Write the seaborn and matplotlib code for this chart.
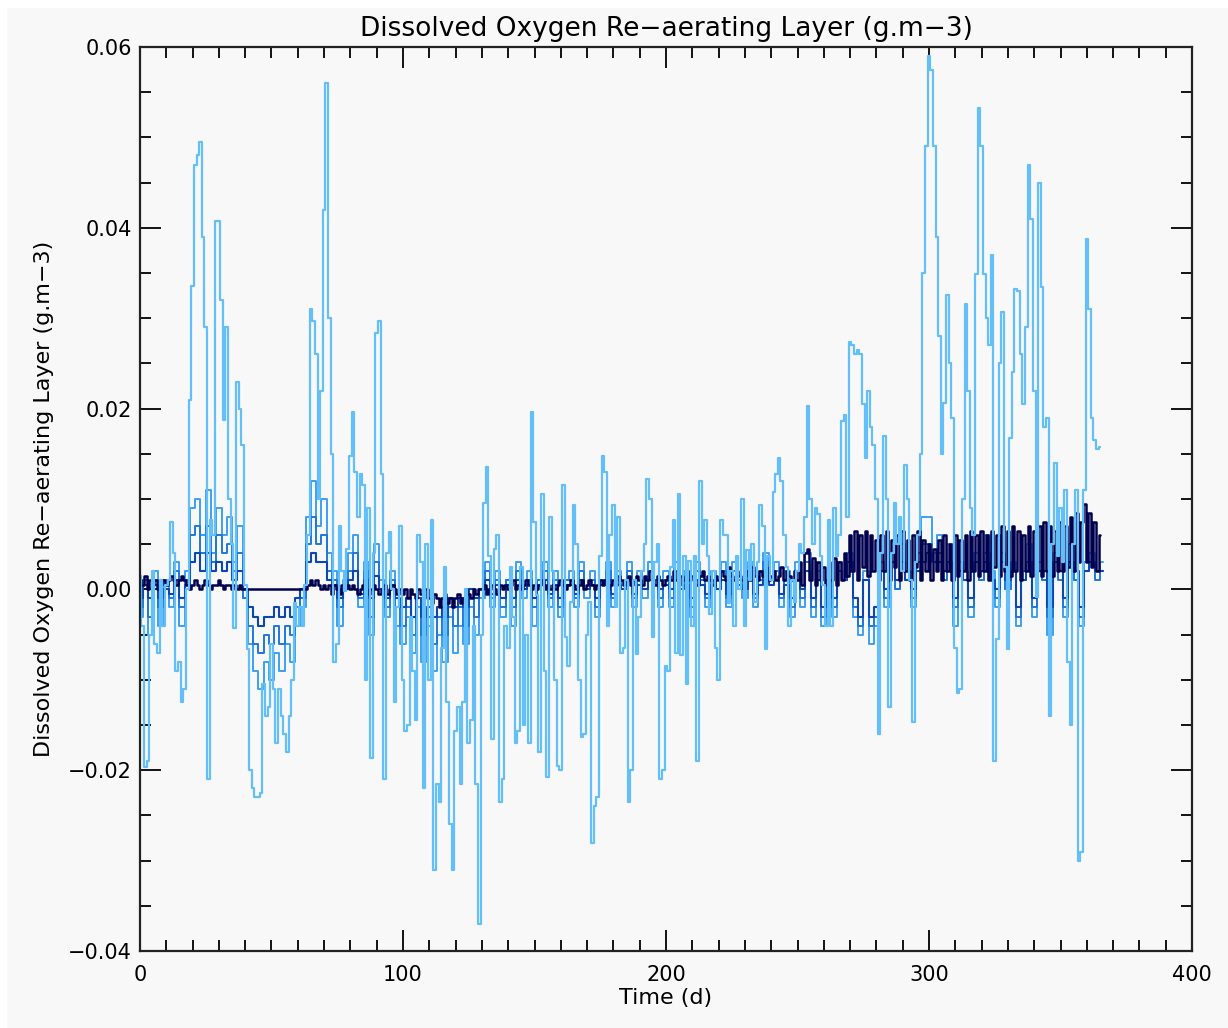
import numpy as np
import pandas as pd
import matplotlib
matplotlib.use("Agg")
import matplotlib.pyplot as plt
from matplotlib.ticker import MultipleLocator, FuncFormatter
import seaborn as sns

# ---- data ----
# surface (lightest) series, one value per day 0..365
light_series = [
    0.0015, -0.004, -0.0196, -0.019, -0.005, 0.002, -0.006, -0.007, 0.001, -0.004,
    0.0005, 0.001, 0.0075, 0.004, -0.009, -0.008, -0.0125, -0.011, 0.0, 0.021,
    0.0336, 0.047, 0.048, 0.0495, 0.039, 0.029, -0.021, 0.0077, 0.006, 0.0407,
    0.0407, 0.032, 0.0187, 0.029, 0.01, 0.005, -0.0043, 0.0229, 0.020, 0.016,
    0.0005, -0.0066, -0.020, -0.022, -0.023, -0.023, -0.0225, -0.0105, -0.014, -0.013,
    -0.006, -0.011, -0.017, -0.011, -0.014, -0.016, -0.018, -0.014, -0.010, -0.0015,
    -0.004, -0.002, -0.004, 0.0005, 0.006, 0.031, 0.0297, 0.026, 0.010, 0.022,
    0.042, 0.056, 0.030, 0.015, -0.008, -0.006, 0.007, 0.002, -0.0002, 0.0045,
    0.0148, 0.0196, 0.013, 0.008, 0.0128, 0.0115, -0.010, 0.009, -0.0186, 0.004,
    0.0284, 0.0297, 0.0128, -0.021, 0.004, 0.0063, 0.0, -0.0125, -0.002, 0.007,
    -0.010, -0.0157, -0.015, -0.003, -0.009, -0.0145, 0.006, 0.003, -0.022, 0.005,
    -0.010, 0.0077, -0.031, -0.0215, -0.0235, -0.0065, 0.0025, -0.0125, -0.026, -0.031,
    -0.0157, -0.013, -0.0215, -0.0125, 0.0, -0.017, -0.0145, -0.004, -0.0215, -0.037,
    -0.005, 0.0096, 0.0135, 0.0037, -0.0165, 0.0045, 0.006, -0.0235, -0.021, -0.004,
    -0.0065, 0.0025, -0.003, -0.017, -0.0157, 0.0025, -0.015, -0.005, -0.017, 0.0196,
    0.0075, -0.0006, -0.018, 0.0106, -0.009, -0.0207, 0.008, 0.002, -0.010, -0.0195,
    -0.020, 0.0115, -0.0053, -0.0085, -0.0014, 0.0093, 0.005, -0.010, -0.0163, -0.016,
    -0.005, -0.0014, -0.028, -0.024, -0.023, 0.0037, 0.0148, 0.013, -0.004, 0.006,
    0.0093, -0.002, 0.008, -0.007, -0.0065, 0.001, -0.0235, -0.020, 0.001, -0.0072,
    -0.003, 0.002, 0.005, 0.0122, 0.010, -0.0053, 0.003, 0.005, -0.021, -0.020,
    -0.0085, -0.009, 0.0025, 0.0077, -0.007, 0.0106, -0.0073, 0.0037, -0.0105, 0.0031,
    -0.004, 0.0037, -0.019, 0.012, 0.005, 0.0077, 0.0037, -0.0027, 0.002, -0.0065,
    -0.010, 0.0077, 0.006, 0.006, -0.0015, 0.002, -0.004, 0.0037, 0.0, 0.010,
    -0.004, 0.0044, 0.001, 0.005, -0.0014, 0.003, 0.0093, 0.007, -0.0066, 0.0037,
    0.001, 0.0108, 0.0128, 0.0145, 0.012, 0.006, 0.0025, -0.004, 0.001, -0.0014,
    0.002, 0.005, 0.004, 0.008, 0.0203, 0.010, 0.005, 0.009, 0.0083, 0.0037,
    0.0005, -0.004, 0.0077, -0.004, 0.009, 0.0037, 0.006, 0.0186, 0.0193, 0.008,
    0.0274, 0.027, 0.026, 0.0265, 0.026, 0.0205, 0.0145, 0.022, 0.018, 0.016,
    0.010, -0.016, 0.004, 0.017, 0.010, -0.013, 0.004, 0.0096, 0.005, 0.008,
    0.002, 0.0138, 0.010, 0.001, -0.0147, 0.003, 0.006, 0.015, 0.035, 0.049,
    0.059, 0.0575, 0.049, 0.039, 0.028, 0.015, 0.0206, 0.0326, 0.025, 0.019,
    -0.0065, -0.0115, -0.011, 0.010, 0.0316, 0.022, 0.009, 0.006, 0.0349, 0.0533,
    0.049, 0.0349, 0.030, 0.027, 0.037, -0.019, -0.0055, 0.025, 0.0307, 0.0025,
    -0.0066, 0.0167, 0.024, 0.0332, 0.033, 0.026, 0.0205, 0.029, 0.047, 0.041,
    0.022, -0.0008, 0.045, 0.0335, 0.018, 0.019, -0.014, 0.005, 0.014, 0.0037,
    0.009, 0.003, 0.011, -0.008, -0.015, 0.005, 0.011, -0.030, -0.029, 0.011,
    0.0388, 0.031, 0.019, 0.0165, 0.0155, 0.0157,
]

# deeper layers, one value every 2 days (0, 2, ..., 366)
layer_upper = [
    -0.003, 0.001, -0.005, 0.002, -0.004, 0.001, -0.002, 0.003, -0.004,
    0.002, 0.009, 0.010, 0.006, 0.011, 0.004, 0.009, 0.006, 0.008, 0.003, 0.007,
    -0.001, -0.006, -0.009, -0.011, -0.008, -0.010, -0.007, -0.009, -0.006, -0.008, -0.004, -0.002,
    0.008, 0.012, 0.007, 0.010, 0.004, 0.002, -0.004,
    0.001, 0.004, 0.006, -0.002, 0.003, -0.005, 0.005, 0.001, -0.003, 0.002, -0.004,
    -0.006, -0.003, -0.007, -0.002, -0.008, -0.004, -0.009, -0.005, -0.008, -0.003, -0.007, -0.004,
    -0.006, -0.002, -0.005, -0.001,
    0.003, -0.002, 0.002, -0.003, 0.001, -0.004, 0.003, -0.001, 0.002, -0.004, 0.001, 0.003,
    -0.002, 0.002, -0.003, 0.001, 0.002, -0.002, 0.003, -0.001, 0.002, -0.003, 0.001, 0.003,
    -0.002, 0.002, 0.000, 0.003, -0.002, 0.002, -0.001, 0.003, 0.001, -0.002,
    0.002, -0.002, 0.003, 0.000, 0.002, -0.003, 0.003, 0.001, -0.002, 0.002, 0.000, 0.003,
    -0.002, 0.003, 0.001, -0.001, 0.003, -0.002, 0.002, 0.004, 0.001, 0.003, -0.002, 0.002, -0.003,
    0.003, -0.002, 0.004, -0.003, 0.002, -0.004, 0.001, -0.003, 0.003, 0.001,
    0.004, -0.003, -0.005, 0.002, -0.006, -0.004, 0.003, -0.002, 0.004, 0.000, 0.005, 0.002,
    -0.002, 0.004, 0.008,
    0.008, 0.004, 0.006, 0.001, 0.005, -0.004, 0.003, 0.002, -0.003, 0.004, 0.001, 0.006,
    0.002, -0.002, 0.004, 0.000, 0.003, -0.004, 0.002, 0.005, -0.003, 0.003, 0.001, -0.005,
    0.004, 0.002, -0.003, 0.005, 0.001, -0.004, 0.003, 0.004, 0.002, 0.003,
]
layer_middle = [
    -0.002, 0.001, -0.003, 0.001, -0.002, 0.0, -0.001, 0.002, -0.002,
    0.001, 0.006, 0.007, 0.004, 0.007, 0.003, 0.006, 0.004, 0.005, 0.002, 0.004,
    -0.001, -0.004, -0.006, -0.007, -0.005, -0.006, -0.004, -0.006, -0.004, -0.005, -0.002, -0.001,
    0.005, 0.008, 0.005, 0.006, 0.002, 0.001, -0.002,
    0.0, 0.002, 0.004, -0.001, 0.002, -0.003, 0.003, 0.0, -0.002, 0.001, -0.002,
    -0.004, -0.002, -0.005, -0.001, -0.005, -0.003, -0.006, -0.003, -0.005, -0.002, -0.004, -0.002,
    -0.004, -0.001, -0.003, 0.0,
    0.002, -0.001, 0.001, -0.002, 0.001, -0.002, 0.002, 0.0, 0.001, -0.002, 0.001, 0.002,
    -0.001, 0.001, -0.002, 0.001, 0.001, -0.001, 0.002, 0.0, 0.001, -0.002, 0.001, 0.002,
    -0.001, 0.001, 0.0, 0.002, -0.001, 0.001, 0.0, 0.002, 0.001, -0.001,
    0.001, -0.001, 0.002, 0.0, 0.001, -0.002, 0.002, 0.001, -0.001, 0.001, 0.0, 0.002,
    -0.001, 0.002, 0.001, 0.0, 0.002, -0.001, 0.001, 0.003, 0.001, 0.002, -0.001, 0.001, -0.002,
    0.002, -0.001, 0.003, -0.002, 0.001, -0.003, 0.001, -0.002, 0.002, 0.001,
    0.003, -0.002, -0.004, 0.001, -0.004, -0.003, 0.002, -0.001, 0.003, 0.0, 0.003, 0.001,
    -0.001, 0.003, 0.005,
    0.005, 0.003, 0.004, 0.001, 0.003, -0.002, 0.002, 0.001, -0.002, 0.003, 0.001, 0.004,
    0.001, -0.001, 0.003, 0.0, 0.002, -0.003, 0.001, 0.003, -0.002, 0.002, 0.001, -0.003,
    0.003, 0.001, -0.002, 0.003, 0.001, -0.003, 0.002, 0.003, 0.001, 0.002,
]
layer_lower = [
    -0.001, 0.0005, -0.001, 0.0005, -0.001, 0.0, -0.0005, 0.001, -0.001,
    0.0005, 0.003, 0.004, 0.002, 0.004, 0.002, 0.003, 0.002, 0.003, 0.001, 0.002,
    0.0, -0.002, -0.003, -0.004, -0.003, -0.003, -0.002, -0.003, -0.002, -0.003, -0.001, 0.0,
    0.003, 0.004, 0.003, 0.003, 0.001, 0.0005, -0.001,
    0.0, 0.001, 0.002, -0.0005, 0.001, -0.001, 0.0015, 0.0, -0.001, 0.0005, -0.001,
    -0.002, -0.001, -0.003, -0.001, -0.003, -0.002, -0.003, -0.002, -0.003, -0.001, -0.002, -0.001,
    -0.002, 0.0, -0.001, 0.0,
    0.001, -0.0005, 0.0005, -0.001, 0.0005, -0.001, 0.001, 0.0, 0.0005, -0.001, 0.0005, 0.001,
    -0.0005, 0.0005, -0.001, 0.0005, 0.0005, -0.0005, 0.001, 0.0, 0.0005, -0.001, 0.0005, 0.001,
    -0.0005, 0.0005, 0.0, 0.001, -0.0005, 0.0005, 0.0, 0.001, 0.0005, 0.0,
    0.0005, 0.0, 0.001, 0.0, 0.0005, -0.001, 0.001, 0.0005, -0.0005, 0.0005, 0.0, 0.001,
    -0.0005, 0.001, 0.0005, 0.0, 0.001, -0.0005, 0.0005, 0.002, 0.0005, 0.001, -0.0005, 0.0005, -0.001,
    0.002, 0.0, 0.002, -0.001, 0.001, -0.002, 0.001, -0.001, 0.002, 0.001,
    0.003, -0.001, -0.003, 0.001, -0.003, -0.002, 0.002, 0.0, 0.003, 0.001, 0.003, 0.001,
    0.0, 0.002, 0.003,
    0.004, 0.003, 0.003, 0.002, 0.003, -0.001, 0.002, 0.001, -0.001, 0.003, 0.002, 0.003,
    0.001, 0.0, 0.003, 0.001, 0.002, -0.002, 0.001, 0.003, -0.001, 0.002, 0.002, -0.002,
    0.003, 0.002, -0.001, 0.003, 0.002, -0.002, 0.002, 0.003, 0.002, 0.002,
]
# deepest layer, one value per day 0..365
layer_deep = [
    0.001, 0.0005, 0.0015, 0.0, 0.001, 0.0005, 0.001, 0.0, 0.0005, 0.001,
    0.0005, 0.001, 0.0015, 0.001, 0.0005, 0.001, 0.0015, 0.001, 0.0005, 0.0,
    0.0005, 0.001, 0.0005, 0.0, 0.0005, 0.001, 0.0005, 0.0, 0.0005, 0.0005,
    0.001, 0.0005, 0.0, 0.0005, 0.0005, 0.0, 0.0005, 0.0, 0.0005, 0.0,
    0.0, 0.0, 0.0, 0.0, 0.0, 0.0, 0.0, 0.0, 0.0, 0.0,
    0.0, 0.0, 0.0, 0.0, 0.0, 0.0, 0.0, 0.0, 0.0, 0.0,
    0.0, 0.0, 0.0, 0.0, 0.0005, 0.001, 0.0005, 0.001, 0.0005, 0.0,
    0.0005, 0.0, 0.0005, -0.0005, 0.0005, 0.0, -0.0005, 0.0005, 0.0, 0.0005,
    0.0, 0.0005, 0.0, -0.0005, 0.0, 0.0005, 0.0, -0.0005, 0.0, 0.0005,
    0.0, -0.0005, 0.0, 0.0005, -0.0005, 0.0, 0.0005, 0.0, -0.0005, 0.0,
    -0.0005, 0.0, -0.001, 0.0, -0.0005, -0.001, 0.0, -0.0005, -0.001, 0.0,
    -0.001, -0.0015, -0.0005, -0.001, -0.002, -0.001, -0.0005, -0.0015, -0.001, -0.002,
    -0.001, -0.0005, -0.0015, -0.001, 0.0, -0.0005, -0.001, 0.0, -0.0005, 0.0,
    0.0, 0.0005, -0.0005, 0.0, 0.0005, 0.0, -0.0005, 0.0005, 0.0, 0.0005,
    0.0, 0.0005, 0.001, 0.0, 0.0005, 0.0, 0.0005, 0.001, 0.0005, 0.0,
    0.0005, 0.0, 0.0005, 0.001, 0.0, 0.0005, 0.0, 0.0005, 0.0, 0.0005,
    0.001, 0.0005, 0.0, 0.0005, 0.001, 0.0005, 0.0, 0.0005, 0.001, 0.0,
    0.0005, 0.001, 0.0005, 0.0, 0.0005, 0.001, 0.0005, 0.001, 0.0, 0.0005,
    0.001, 0.0005, 0.0015, 0.001, 0.0005, 0.001, 0.0015, 0.0005, 0.001, 0.0015,
    0.001, 0.0005, 0.0015, 0.001, 0.002, 0.001, 0.0005, 0.0015, 0.001, 0.0005,
    0.001, 0.0015, 0.001, 0.002, 0.001, 0.0005, 0.0015, 0.001, 0.002, 0.001,
    0.0015, 0.001, 0.0005, 0.0015, 0.002, 0.001, 0.0015, 0.001, 0.0005, 0.0015,
    0.001, 0.002, 0.0015, 0.001, 0.0025, 0.0015, 0.001, 0.002, 0.0015, 0.001,
    0.0015, 0.002, 0.001, 0.0025, 0.0015, 0.001, 0.002, 0.0015, 0.0025, 0.001,
    0.0015, 0.002, 0.001, 0.0015, 0.0025, 0.001, 0.002, 0.0015, 0.001, 0.002,
    0.001, 0.003, 0.0005, 0.004, 0.0045, 0.001, 0.0035, 0.0005, 0.003, 0.001,
    0.0025, 0.0005, 0.003, 0.001, 0.0035, 0.0005, 0.003, 0.001, 0.004, 0.0015,
    0.006, 0.002, 0.0065, 0.001, 0.006, 0.0025, 0.0065, 0.0015, 0.006, 0.002,
    0.0055, 0.001, 0.006, 0.002, 0.0065, 0.001, 0.0055, 0.0025, 0.006, 0.001,
    0.0065, 0.002, 0.0055, 0.001, 0.006, 0.0025, 0.0065, 0.001, 0.0055, 0.002,
    0.005, 0.001, 0.0045, 0.002, 0.0055, 0.001, 0.006, 0.002, 0.005, 0.001,
    0.006, 0.0015, 0.0055, 0.002, 0.006, 0.001, 0.0065, 0.002, 0.006, 0.0015,
    0.0065, 0.002, 0.006, 0.001, 0.0065, 0.0025, 0.006, 0.0015, 0.007, 0.002,
    0.0065, 0.0015, 0.007, 0.002, 0.0065, 0.001, 0.006, 0.002, 0.007, 0.0015,
    0.0065, 0.002, 0.007, 0.0015, 0.0075, 0.002, 0.007, 0.0015, 0.0065, 0.002,
    0.0075, 0.002, 0.007, 0.0025, 0.008, 0.002, 0.0085, 0.003, 0.0075, 0.0095,
    0.003, 0.0085, 0.0025, 0.0075, 0.002, 0.006,
]

title = "Dissolved Oxygen Re\u2212aerating Layer (g.m\u22123)"
ylabel = "Dissolved Oxygen Re\u2212aerating Layer (g.m\u22123)"
xlabel = "Time (d)"

# ---- figure ----
sns.set_theme(style="ticks")
plt.rcParams["font.family"] = ["DejaVu Sans"]

fig = plt.figure(figsize=(12.28, 10.28), dpi=100)
fig.patch.set_facecolor("white")
bg = plt.Rectangle((0.006, 0.0), 0.994, 0.992, transform=fig.transFigure,
                   facecolor="#f8f8f8", edgecolor="none", zorder=-10)
fig.patches.append(bg)

ax = fig.add_axes([0.114, 0.0749, 0.8567, 0.8794])
ax.set_facecolor("#f8f8f8")

two_day = np.arange(0, 2 * len(layer_upper), 2)
one_day = np.arange(len(light_series))
layers = [
    (two_day, layer_upper, "#3d9ff0", 1.4),
    (two_day, layer_middle, "#1f78dc", 1.4),
    (two_day, layer_lower, "#0c46b0", 1.5),
    (np.arange(len(layer_deep)), layer_deep, "#00004e", 1.8),
    (one_day, light_series, "#62bff7", 1.6),
]
for days, vals, col, lw in layers:
    df = pd.DataFrame({"day": days, "val": vals})
    sns.lineplot(data=df, x="day", y="val", ax=ax, color=col, lw=lw,
                 drawstyle="steps-mid", estimator=None, sort=False)

ax.set_xlim(0, 400)
ax.set_ylim(-0.04, 0.06)
ax.xaxis.set_major_locator(MultipleLocator(100))
ax.xaxis.set_minor_locator(MultipleLocator(10))
ax.yaxis.set_major_locator(MultipleLocator(0.02))
ax.yaxis.set_minor_locator(MultipleLocator(0.005))
ax.yaxis.set_major_formatter(FuncFormatter(
    lambda v, p: ("%.2f" % v).replace("-", "\u2212") if abs(v) > 1e-9 else "0.00"))
ax.tick_params(which="both", direction="in", top=True, right=True,
               colors="black", width=1.3, labelsize=15)
ax.tick_params(which="major", length=15)
ax.tick_params(which="minor", length=8)
ax.tick_params(axis="x", pad=10)
ax.tick_params(axis="y", pad=6)
for s in ax.spines.values():
    s.set_color("#222222")
    s.set_linewidth(1.6)

ax.set_title(title, fontsize=19, pad=8, color="black")
ax.set_xlabel(xlabel, fontsize=16, labelpad=2, color="black")
ax.set_ylabel(ylabel, fontsize=16, labelpad=10, color="black")

fig.savefig("out.png", dpi=100, facecolor=fig.get_facecolor())
